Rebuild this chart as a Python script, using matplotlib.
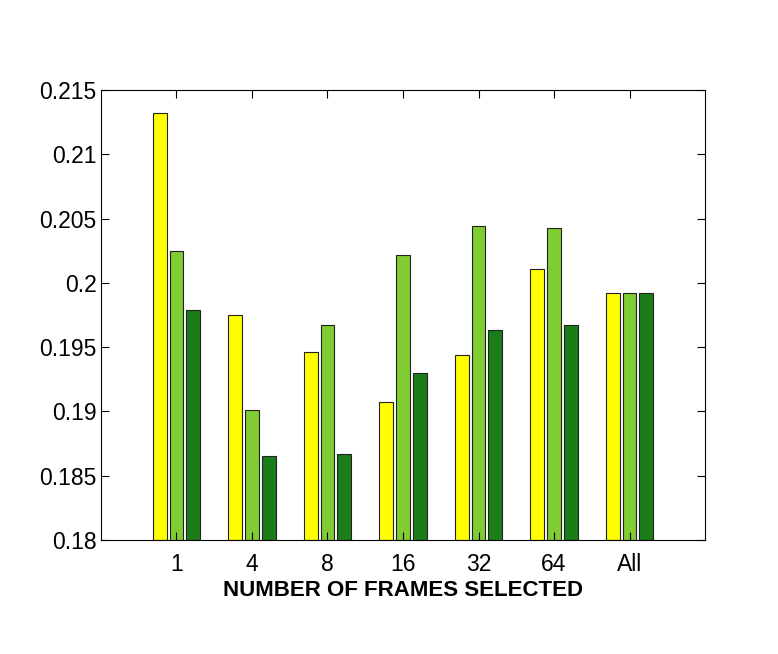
import matplotlib
matplotlib.use('Agg')
import matplotlib.pyplot as plt
import numpy as np

plt.rcParams['font.family'] = ['Liberation Sans', 'DejaVu Sans']

# data
frames = ['1', '4', '8', '16', '32', '64', 'All']
yellow_vals = [0.2132, 0.1975, 0.1946, 0.1907, 0.1944, 0.2011, 0.1992]
light_vals = [0.2025, 0.1901, 0.1967, 0.2022, 0.2044, 0.2043, 0.1992]
dark_vals = [0.1979, 0.1865, 0.1867, 0.1930, 0.1963, 0.1967, 0.1992]

colors = ['#ffff00', '#80cc33', '#1a7d1a']
series = [yellow_vals, light_vals, dark_vals]

fig = plt.figure(figsize=(7.78, 6.54), dpi=100)
ax = fig.add_axes([0.1298, 0.1743, 0.7764, 0.6881])

x = np.arange(1, len(frames) + 1)
offset = 0.222
width = 0.18
for i, (vals, col) in enumerate(zip(series, colors)):
    ax.bar(x + (i - 1) * offset, np.array(vals) - 0.18, width=width,
           bottom=0.18, color=col, edgecolor='#222222', linewidth=0.8)

ax.set_xlim(0, 8)
ax.set_ylim(0.18, 0.215)
ax.set_xticks(x)
ax.set_xticklabels(frames)
ax.set_yticks(np.arange(0.18, 0.2151, 0.005))
ax.set_yticklabels(['0.18', '0.185', '0.19', '0.195', '0.2', '0.205', '0.21', '0.215'])
ax.tick_params(direction='in', top=True, right=True, length=6, labelsize=16.5)
ax.tick_params(axis='y', pad=3)
ax.tick_params(axis='x', pad=9)
for sp in ax.spines.values():
    sp.set_linewidth(0.8)

ax.set_xlabel('NUMBER OF FRAMES SELECTED', fontsize=16, fontweight='bold', labelpad=3)

fig.savefig('out.png', dpi=100)
